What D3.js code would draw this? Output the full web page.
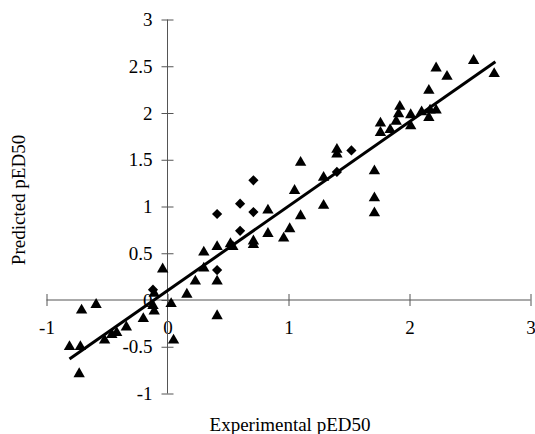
<!DOCTYPE html>
<html>
<head>
<meta charset="utf-8">
<script src="https://cdn.jsdelivr.net/npm/d3@7"></script>
<style>
  body { margin: 0; background: #fff; }
  svg { display: block; font-family: "Liberation Serif", "Times New Roman", serif; }
</style>
</head>
<body>
<script>
// ticks
let xTicks = [-1, 0, 1, 2, 3];
let yTicks = [-1, -0.5, 0, 0.5, 1, 1.5, 2, 2.5, 3];

// triangles: [experimental, predicted]
let triangles = [
  [-0.81, -0.50], [-0.72, -0.50], [-0.73, -0.79], [-0.71, -0.11], [-0.59, -0.05],
  [-0.52, -0.43], [-0.46, -0.37], [-0.42, -0.35], [-0.34, -0.29], [-0.20, -0.20],
  [-0.11, 0.07], [-0.12, -0.06], [-0.11, -0.12], [0.03, -0.04], [0.05, -0.43],
  [-0.04, 0.33], [0.16, 0.06], [0.23, 0.20], [0.30, 0.34], [0.30, 0.51],
  [0.41, 0.57], [0.41, 0.20], [0.41, -0.17], [0.52, 0.60], [0.54, 0.57],
  [0.71, 0.63], [0.71, 0.59], [0.83, 0.71], [0.83, 0.96], [0.96, 0.66],
  [1.01, 0.76], [1.10, 0.90], [1.05, 1.17], [1.10, 1.47], [1.29, 1.31],
  [1.29, 1.01], [1.40, 1.61], [1.40, 1.56], [1.71, 1.38], [1.71, 1.09],
  [1.71, 0.93], [1.76, 1.89], [1.76, 1.79], [1.84, 1.82], [1.89, 1.91],
  [1.91, 1.99], [1.92, 2.07], [2.01, 1.98], [2.01, 1.86], [2.10, 2.01],
  [2.17, 2.03], [2.16, 1.95], [2.22, 2.03], [2.16, 2.24], [2.22, 2.48],
  [2.31, 2.39], [2.53, 2.56], [2.70, 2.42]
];

// diamonds: [experimental, predicted]
let diamonds = [
  [-0.12, 0.11], [0.41, 0.32], [0.41, 0.92], [0.60, 0.74], [0.60, 1.03],
  [0.71, 1.28], [0.71, 0.94], [1.40, 1.37], [1.52, 1.60]
];

// regression line y = slope * x + intercept
let slope = 0.903, intercept = 0.10;
let lineX = [-0.81, 2.71];

let width = 535, height = 434;

let x = d3.scaleLinear().domain([-1, 3]).range([46.5, 530.5]);
let y = d3.scaleLinear().domain([-1, 3]).range([393.5, 19.5]);

let svg = d3.select("body").append("svg")
    .attr("width", width)
    .attr("height", height);

// plain hyphen minus like the original
let fmt = (d) => { return String(d); };

// x axis through y = 0
let xAxis = svg.append("g")
    .attr("transform", "translate(0," + y(0) + ")")
    .call(d3.axisBottom(x).tickValues(xTicks).tickFormat(fmt).tickSize(6).tickPadding(15));

// y axis through x = 0
let yAxis = svg.append("g")
    .attr("transform", "translate(" + x(0) + ",0)")
    .call(d3.axisLeft(y).tickValues(yTicks).tickFormat(fmt).tickSize(6).tickPadding(9));

// crossing ticks, gray lines, serif labels
xAxis.selectAll(".tick line").attr("y1", -6);
yAxis.selectAll(".tick line").attr("x1", 6);
svg.selectAll(".domain").remove();
xAxis.append("line").attr("x1", x(-1)).attr("x2", x(3));
yAxis.append("line").attr("y1", y(-1)).attr("y2", y(3));
svg.selectAll("g line").attr("stroke", "#555").attr("stroke-width", 1);
svg.selectAll(".tick text")
    .attr("fill", "#000")
    .style("font-size", "19px")
    .style("font-family", "Liberation Serif, serif");

// markers
svg.append("g").selectAll("path")
    .data(triangles)
    .enter().append("path")
    .attr("d", d3.symbol().type(d3.symbolTriangle).size(56))
    .attr("transform", (d) => { return "translate(" + x(d[0]) + "," + y(d[1]) + ")"; })
    .attr("fill", "#000");

svg.append("g").selectAll("path")
    .data(diamonds)
    .enter().append("path")
    .attr("d", d3.symbol().type(d3.symbolSquare).size(52))
    .attr("transform", (d) => { return "translate(" + x(d[0]) + "," + y(d[1]) + ") rotate(45)"; })
    .attr("fill", "#000");

// regression line
svg.append("line")
    .attr("x1", x(lineX[0])).attr("y1", y(slope * lineX[0] + intercept))
    .attr("x2", x(lineX[1])).attr("y2", y(slope * lineX[1] + intercept))
    .attr("stroke", "#000")
    .attr("stroke-width", 3);

// axis titles
svg.append("text")
    .attr("x", 290).attr("y", 431)
    .attr("text-anchor", "middle")
    .style("font-size", "19px")
    .text("Experimental pED50");

svg.append("text")
    .attr("transform", "translate(25,200) rotate(-90)")
    .attr("text-anchor", "middle")
    .style("font-size", "19px")
    .text("Predicted pED50");
</script>
</body>
</html>
